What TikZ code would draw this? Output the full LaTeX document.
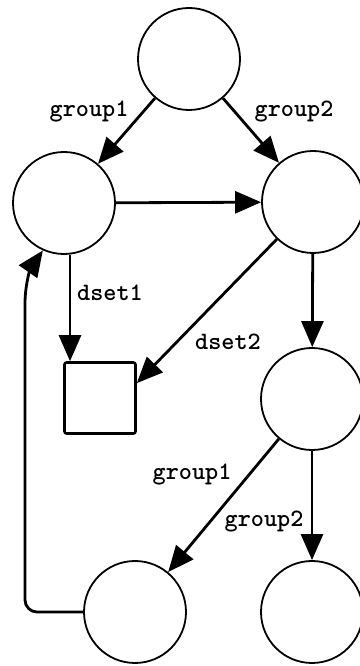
\documentclass[tikz,border=0pt]{standalone}
\usepackage{fontspec}
\usepackage{tikz}
\usetikzlibrary{arrows.meta,positioning,calc}
\tikzset{
  state/.style={
    shape = circle,
    draw,
    line width = 1.8pt,
    minimum size = 102pt,
    inner sep = 0pt
  },
  store/.style={
    shape = rectangle,
    draw,
    line width = 2.6pt,
    rounded corners = 2pt,
    minimum size = 71pt,
    inner sep = 0pt
  },
  flow/.style={
    line width = 2.8pt,
    -{Triangle[length=26pt,width=22pt]}
  },
  lbl/.style={
    font = \ttfamily\bfseries\fontsize{25}{27}\selectfont,
    inner sep = 0pt
  }
}
\begin{document}
\begin{tikzpicture}[x=1pt,y=1pt]
        \useasboundingbox (0,0) rectangle (359,666);
        % states
        \node[state] (top) at (189,607) {};
        \node[state] (l1) at (64,463) {};
        \node[state] (r1) at (313,464) {};
        \node[store] (sq) at (100,268) {};
        \node[state] (r2) at (312,267) {};
        \node[state] (b1) at (135,54) {};
        \node[state] (b2) at (312,54) {};
        % transitions
        \draw[flow] (top) -- (l1);
        \draw[flow] (top) -- (r1);
        \draw[flow] (l1) -- (r1);
        \draw[flow] ([xshift=6pt]l1.south) -- ([xshift=6pt]l1.south |- sq.north);
        \draw[flow] (r1) -- (sq.22);
        \draw[flow] (r1) -- (r2);
        \draw[flow] (r2) -- (b1);
        \draw[flow] (r2) -- (b2);
        \coordinate (bend) at (25,54);
        \draw[flow, rounded corners=12pt] (b1.west) -- (bend) -- (25,350)
          .. controls (25,385) and (32,400) .. (l1.246);
        % labels
        \node[lbl] (g1a) at (89,554) {group1};
        \node[lbl] (g2a) at (294,554) {group2};
        \node[lbl] (ds1) at (110,373) {dset1};
        \node[lbl] (ds2) at (228,324) {dset2};
        \node[lbl] (g1b) at (192,191) {group1};
        \node[lbl] (g2b) at (264,144) {group2};
    \end{tikzpicture}
\end{document}
